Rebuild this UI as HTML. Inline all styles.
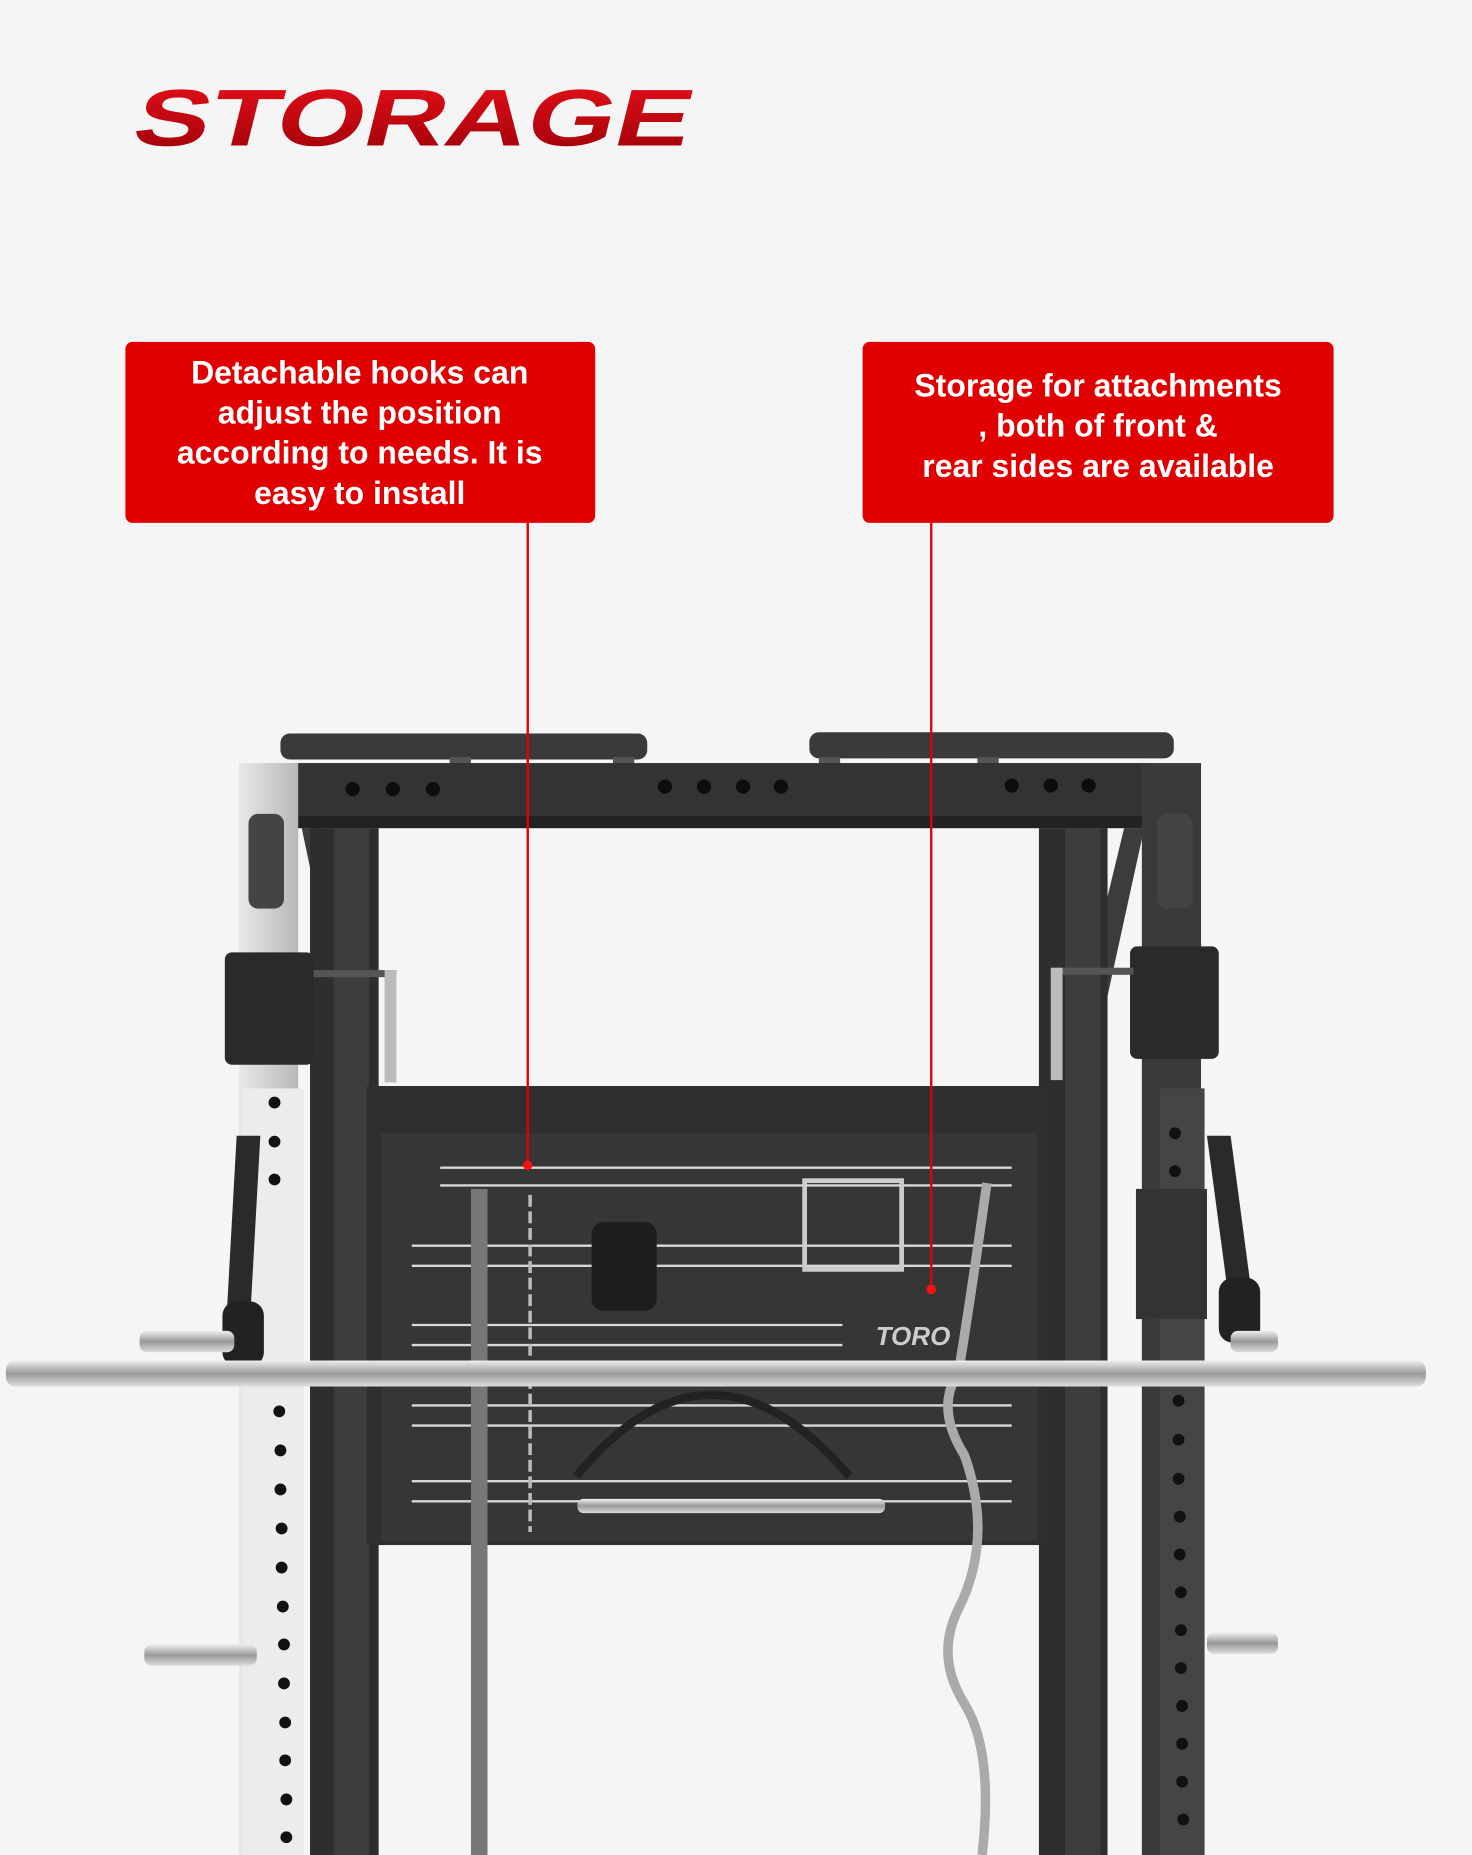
<!DOCTYPE html>
<html><head><meta charset="utf-8"><style>
html,body{margin:0;padding:0;background:#f4f4f4;}
svg{display:block;}
</style></head><body>
<svg width="1472" height="1855" viewBox="0 0 1244 1568" preserveAspectRatio="none" xmlns="http://www.w3.org/2000/svg">
<defs>
<linearGradient id="tg" x1="0" y1="0" x2="0" y2="1"><stop offset="0" stop-color="#e8101a"/><stop offset="1" stop-color="#9a0008"/></linearGradient>
<linearGradient id="bar" x1="0" y1="0" x2="0" y2="1"><stop offset="0" stop-color="#eee"/><stop offset=".5" stop-color="#999"/><stop offset="1" stop-color="#ddd"/></linearGradient>
<linearGradient id="up" x1="0" y1="0" x2="1" y2="0"><stop offset="0" stop-color="#e8e8e8"/><stop offset="1" stop-color="#b8b8b8"/></linearGradient>
</defs>
<rect width="1244" height="1568" fill="#f5f5f5"/>
<text x="0" y="123" transform="skewX(-14) translate(140,0)" font-family="Liberation Sans, sans-serif" font-weight="900" font-size="68" fill="url(#tg)" textLength="470" lengthAdjust="spacingAndGlyphs">STORAGE</text>

<!-- machine -->
<g>
<!-- top handles -->
<rect x="237" y="620" width="310" height="22" rx="8" fill="#3a3a3a"/>
<rect x="684" y="619" width="308" height="22" rx="8" fill="#3a3a3a"/>
<rect x="380" y="640" width="18" height="35" fill="#555"/><rect x="518" y="640" width="18" height="35" fill="#555"/>
<rect x="692" y="640" width="18" height="35" fill="#555"/><rect x="826" y="640" width="18" height="35" fill="#555"/>
<!-- crossbar -->
<rect x="248" y="645" width="722" height="55" fill="#333"/>
<rect x="248" y="690" width="722" height="10" fill="#222"/>
<g fill="#0d0d0d"><circle cx="298" cy="667" r="6"/><circle cx="332" cy="667" r="6"/><circle cx="366" cy="667" r="6"/><circle cx="562" cy="665" r="6"/><circle cx="595" cy="665" r="6"/><circle cx="628" cy="665" r="6"/><circle cx="660" cy="665" r="6"/><circle cx="855" cy="664" r="6"/><circle cx="888" cy="664" r="6"/><circle cx="920" cy="664" r="6"/></g>
<!-- diagonals -->
<polygon points="255,700 272,700 320,915 300,915" fill="#3c3c3c"/>
<polygon points="950,700 967,700 920,915 898,915" fill="#3c3c3c"/>
<!-- inner uprights -->
<rect x="262" y="700" width="58" height="868" fill="#2e2e2e"/>
<rect x="282" y="700" width="30" height="868" fill="#3d3d3d"/>
<rect x="878" y="700" width="58" height="868" fill="#2e2e2e"/>
<rect x="900" y="700" width="30" height="868" fill="#3d3d3d"/>
<!-- outer uprights -->
<rect x="202" y="645" width="50" height="923" fill="url(#up)"/>
<rect x="205" y="920" width="52" height="648" fill="#ececec"/>
<rect x="965" y="645" width="50" height="923" fill="#3a3a3a"/>
<rect x="980" y="920" width="38" height="648" fill="#454545"/>
<g fill="#111">
<circle cx="232" cy="932" r="5"/><circle cx="232" cy="965" r="5"/><circle cx="232" cy="997" r="5"/>
<circle cx="236" cy="1193" r="5"/><circle cx="237" cy="1226" r="5"/><circle cx="237" cy="1259" r="5"/><circle cx="238" cy="1292" r="5"/><circle cx="238" cy="1325" r="5"/><circle cx="239" cy="1358" r="5"/><circle cx="240" cy="1390" r="5"/><circle cx="240" cy="1423" r="5"/><circle cx="241" cy="1456" r="5"/><circle cx="241" cy="1488" r="5"/><circle cx="242" cy="1521" r="5"/><circle cx="242" cy="1553" r="5"/>
<circle cx="993" cy="958" r="5"/><circle cx="993" cy="990" r="5"/><circle cx="996" cy="1184" r="5"/><circle cx="996" cy="1217" r="5"/><circle cx="996" cy="1250" r="5"/><circle cx="997" cy="1282" r="5"/><circle cx="997" cy="1314" r="5"/><circle cx="998" cy="1346" r="5"/><circle cx="998" cy="1378" r="5"/><circle cx="998" cy="1410" r="5"/><circle cx="999" cy="1442" r="5"/><circle cx="999" cy="1474" r="5"/><circle cx="999" cy="1506" r="5"/><circle cx="1000" cy="1538" r="5"/>
</g>
<!-- pulley blocks -->
<rect x="190" y="805" width="75" height="95" rx="6" fill="#2a2a2a"/>
<rect x="210" y="688" width="30" height="80" rx="8" fill="#444"/>
<rect x="955" y="800" width="75" height="95" rx="6" fill="#2a2a2a"/>
<rect x="978" y="688" width="30" height="80" rx="8" fill="#444"/>
<rect x="265" y="820" width="70" height="6" fill="#555"/><rect x="325" y="820" width="10" height="95" fill="#bbb"/>
<rect x="888" y="818" width="70" height="6" fill="#555"/><rect x="888" y="818" width="10" height="95" fill="#bbb"/>
<!-- handles hanging -->
<polygon points="200,960 220,960 210,1140 190,1140" fill="#2a2a2a"/>
<rect x="188" y="1100" width="35" height="55" rx="12" fill="#222"/>
<polygon points="1020,960 1040,960 1060,1110 1040,1110" fill="#2a2a2a"/>
<rect x="1030" y="1080" width="35" height="55" rx="12" fill="#222"/>
<rect x="960" y="1005" width="60" height="110" fill="#333"/>
<!-- panel -->
<rect x="310" y="918" width="570" height="388" fill="#2f2f2f"/>
<rect x="322" y="958" width="555" height="345" fill="#363636"/>
<g stroke="#d8d8d8" stroke-width="2">
<line x1="372" y1="987" x2="855" y2="987"/><line x1="372" y1="1002" x2="855" y2="1002"/>
<line x1="348" y1="1053" x2="855" y2="1053"/><line x1="348" y1="1070" x2="855" y2="1070"/>
<line x1="348" y1="1120" x2="712" y2="1120"/><line x1="348" y1="1137" x2="712" y2="1137"/>
<line x1="348" y1="1188" x2="855" y2="1188"/><line x1="348" y1="1205" x2="855" y2="1205"/>
<line x1="348" y1="1252" x2="855" y2="1252"/><line x1="348" y1="1269" x2="855" y2="1269"/>
</g>
<text x="740" y="1137" font-family="Liberation Sans, sans-serif" font-style="italic" font-weight="900" font-size="22" fill="#ccc">TORO</text>
<!-- accessories -->
<rect x="398" y="1005" width="14" height="563" fill="#777"/>
<g fill="none" stroke="#bbb" stroke-width="3">
<path d="M448 1010 V1295" stroke-dasharray="10 4"/>
<path d="M487 1248 Q600 1110 718 1248" stroke="#222" stroke-width="7"/>
<path d="M834 1000 Q820 1100 810 1160 Q790 1190 815 1230 Q840 1300 810 1360 Q790 1400 815 1440 Q840 1480 830 1568" stroke="#aaa" stroke-width="8"/>
</g>
<rect x="500" y="1033" width="55" height="75" rx="10" fill="#1d1d1d"/>
<rect x="680" y="998" width="82" height="75" fill="none" stroke="#ccc" stroke-width="4"/>
<rect x="488" y="1267" width="260" height="12" rx="5" fill="url(#bar)"/>
<!-- barbell -->
<rect x="5" y="1150" width="1200" height="22" rx="8" fill="url(#bar)"/>
<rect x="118" y="1125" width="80" height="18" rx="6" fill="url(#bar)"/>
<rect x="122" y="1390" width="95" height="18" rx="6" fill="url(#bar)"/>
<rect x="1020" y="1380" width="60" height="18" rx="6" fill="url(#bar)"/>
<rect x="1040" y="1125" width="40" height="18" rx="6" fill="url(#bar)"/>
</g>

<!-- callouts -->
<line x1="446" y1="442" x2="446" y2="985" stroke="#e00000" stroke-width="2"/>
<circle cx="446" cy="985" r="4" fill="#ff1010"/>
<line x1="787" y1="442" x2="787" y2="1090" stroke="#e00000" stroke-width="2"/>
<circle cx="787" cy="1090" r="4" fill="#ff1010"/>
<rect x="106" y="289" width="397" height="153" rx="6" fill="#e00000"/>
<rect x="729" y="289" width="398" height="153" rx="6" fill="#e00000"/>
<g font-family="Liberation Sans, sans-serif" font-weight="bold" font-size="27" fill="#fff" text-anchor="middle">
<text x="304" y="324">Detachable hooks can</text>
<text x="304" y="358">adjust the position</text>
<text x="304" y="392">according to needs. It is</text>
<text x="304" y="426">easy to install</text>
<text x="928" y="335">Storage for attachments</text>
<text x="928" y="369">, both of front &amp;</text>
<text x="928" y="403">rear sides are available</text>
</g>
</svg>
</body></html>
